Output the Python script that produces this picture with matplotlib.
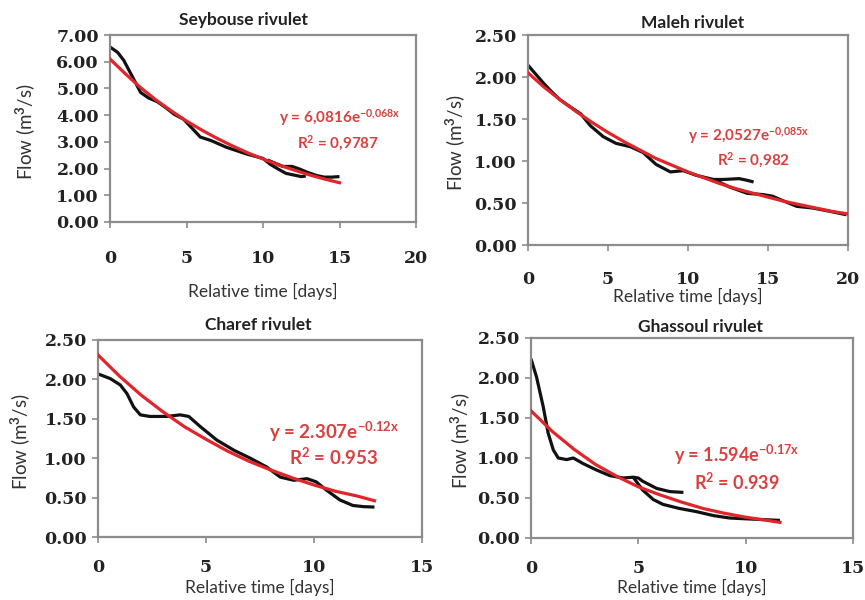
import numpy as np
import matplotlib
matplotlib.use('Agg')
import matplotlib.pyplot as plt

# Seybouse rivulet: two observed recessions + exponential trend
sey_x1 = [0, 0.5, 0.9, 1.5, 2.0, 2.5, 3.1, 3.6, 4.2, 4.8, 5.3, 5.9, 6.6, 7.6, 8.9, 10.0, 10.5, 11.0, 11.5, 12.0, 12.5, 12.8]
sey_y1 = [6.55, 6.35, 6.05, 5.40, 4.85, 4.65, 4.50, 4.30, 4.03, 3.85, 3.55, 3.18, 3.05, 2.80, 2.55, 2.38, 2.15, 1.98, 1.82, 1.76, 1.70, 1.72]
sey_x2 = [10.3, 10.8, 11.3, 11.9, 12.4, 12.9, 13.5, 14.0, 14.5, 15.0]
sey_y2 = [2.32, 2.20, 2.08, 2.08, 1.98, 1.86, 1.74, 1.68, 1.68, 1.70]
sey_fx = [0, 1, 2, 3, 4, 5, 6, 7, 8, 9, 10, 11, 12, 13, 14, 15]
sey_fy = [6.10, 5.55, 5.03, 4.57, 4.16, 3.78, 3.44, 3.13, 2.85, 2.59, 2.36, 2.14, 1.95, 1.77, 1.61, 1.47]

# Maleh rivulet
mal_x1 = [0, 0.5, 1.0, 1.5, 2.0, 2.6, 3.3, 3.9, 4.7, 5.5, 6.4, 7.2, 8.0, 8.9, 9.7, 10.5, 11.6, 12.2, 13.2, 13.7, 14.1]
mal_y1 = [2.14, 2.03, 1.92, 1.82, 1.73, 1.65, 1.56, 1.42, 1.29, 1.21, 1.17, 1.10, 0.96, 0.87, 0.885, 0.83, 0.78, 0.78, 0.79, 0.77, 0.75]
mal_x2 = [11.6, 12.6, 13.7, 14.7, 15.3, 15.9, 16.8, 17.8, 18.9, 19.9]
mal_y2 = [0.78, 0.69, 0.615, 0.60, 0.58, 0.53, 0.46, 0.44, 0.40, 0.36]
mal_fx = [0, 1, 2, 3, 4, 5, 6, 7, 8, 9, 10, 11, 12, 13, 14, 15, 16, 17, 18, 19, 20]
mal_fy = [2.05, 1.88, 1.73, 1.59, 1.46, 1.34, 1.23, 1.13, 1.03, 0.95, 0.87, 0.80, 0.73, 0.67, 0.62, 0.57, 0.52, 0.48, 0.44, 0.40, 0.37]

# Charef rivulet
cha_x = [0, 0.57, 1.03, 1.34, 1.65, 1.96, 2.4, 3.2, 3.8, 4.2, 4.74, 5.5, 6.3, 7.05, 7.8, 8.44, 9.06, 9.68, 10.1, 10.6, 11.2, 11.8, 12.3, 12.8]
cha_y = [2.07, 2.01, 1.93, 1.82, 1.65, 1.55, 1.53, 1.53, 1.55, 1.53, 1.40, 1.23, 1.10, 1.00, 0.89, 0.76, 0.72, 0.74, 0.70, 0.59, 0.47, 0.40, 0.385, 0.38]
cha_fx = [0, 1, 2, 3, 4, 5, 6, 7, 8, 9, 10, 11, 12, 12.8]
cha_fy = [2.31, 2.04, 1.80, 1.59, 1.40, 1.24, 1.09, 0.96, 0.85, 0.75, 0.66, 0.58, 0.52, 0.46]

# Ghassoul rivulet
gha_x1 = [0, 0.26, 0.57, 0.8, 1.04, 1.27, 1.66, 1.97, 2.43, 3.05, 3.67, 4.3, 4.76, 5.0, 5.2, 5.85, 6.47, 7.1]
gha_y1 = [2.24, 2.01, 1.64, 1.31, 1.10, 1.00, 0.98, 1.00, 0.93, 0.85, 0.78, 0.75, 0.76, 0.75, 0.71, 0.62, 0.58, 0.57]
gha_x2 = [4.76, 5.2, 5.7, 6.15, 6.9, 7.7, 8.5, 9.25, 10.0, 10.8, 11.6]
gha_y2 = [0.76, 0.60, 0.48, 0.42, 0.37, 0.33, 0.28, 0.25, 0.24, 0.23, 0.22]
gha_fx = [0, 1, 2, 3, 4, 5, 6, 7, 8, 9, 10, 11, 11.6]
gha_fy = [1.59, 1.33, 1.11, 0.92, 0.77, 0.64, 0.54, 0.45, 0.37, 0.31, 0.26, 0.22, 0.195]

titles = ['Seybouse rivulet', 'Maleh rivulet', 'Charef rivulet', 'Ghassoul rivulet']
equations = ['y = 6,0816e$^{-0{,}068x}$', 'y = 2,0527e$^{-0{,}085x}$',
             'y = 2.307e$^{-0.12x}$', 'y = 1.594e$^{-0.17x}$']
r2_labels = ['R$^2$ = 0,9787', 'R$^2$ = 0,982', 'R$^2$ = 0.953', 'R$^2$ = 0.939']

W, H = 865, 600
BLACK = '#111111'
RED = '#e0262a'
TXT_RED = '#d9403f'
FRAME = '#8c8c8c'

plt.rcParams['mathtext.fontset'] = 'custom'
plt.rcParams['mathtext.rm'] = 'Lato:bold'
plt.rcParams['mathtext.it'] = 'Lato:bold'
plt.rcParams['mathtext.bf'] = 'Lato:bold'

fig = plt.figure(figsize=(W / 100, H / 100), dpi=100)


def make_axes(l, r, t, b):
    return fig.add_axes([l / W, 1 - b / H, (r - l) / W, (b - t) / H])


def style(ax, xmax, xstep, ymax, ystep):
    ax.set_xlim(0, xmax)
    ax.set_ylim(0, ymax)
    ax.set_xticks(np.arange(0, xmax + 0.01, xstep))
    yt = np.arange(0, ymax + 0.001, ystep)
    ax.set_yticks(yt)
    ax.set_yticklabels(['%.2f' % v for v in yt])
    for s in ax.spines.values():
        s.set_color(FRAME)
        s.set_linewidth(1.6)
    ax.tick_params(colors=FRAME, length=4, width=1.2, labelcolor='#222222')
    for lab in ax.get_xticklabels() + ax.get_yticklabels():
        lab.set_fontfamily('DejaVu Serif')
        lab.set_fontweight('bold')
        lab.set_fontsize(12.5)


configs = [
    # pixel box (l, r, t, b), xmax, xstep, ymax, ystep
    ((110, 416, 35, 222), 20, 5, 7.0, 1.0),
    ((528, 848, 35, 245), 20, 5, 2.5, 0.5),
    ((98, 422, 340, 537), 15, 5, 2.5, 0.5),
    ((531, 853, 338, 538), 15, 5, 2.5, 0.5),
]
# tick label pad (pt), x label centre y, y label centre x, title y, title x, eq pos, r2 pos, eq size
extras = [
    (16, 291, 25, 20, 243, (340, 118), (338, 143), 11),
    (15, 296, 455, 23, 693, (749, 136), (754, 160), 11),
    (12, 587, 20, 325, 258, (334, 432), (334, 457), 13.5),
    (12, 587, 460, 327, 700, (737, 455), (737, 482), 13),
]

series = [
    [(sey_x1, sey_y1), (sey_x2, sey_y2)],
    [(mal_x1, mal_y1), (mal_x2, mal_y2)],
    [(cha_x, cha_y)],
    [(gha_x1, gha_y1), (gha_x2, gha_y2)],
]
fits = [(sey_fx, sey_fy), (mal_fx, mal_fy), (cha_fx, cha_fy), (gha_fx, gha_fy)]

for i in range(4):
    px, xmax, xstep, ymax, ystep = configs[i]
    pad, xl_y, yl_x, t_y, t_x, eq_pos, r2_pos, eq_size = extras[i]
    l, r, t, b = px
    ax = make_axes(l, r, t, b)
    for sx, sy in series[i]:
        ax.plot(sx, sy, color=BLACK, lw=2.3, solid_capstyle='butt', zorder=2)
    fx, fy = fits[i]
    ax.plot(fx, fy, color=RED, lw=2.3, zorder=3)
    style(ax, xmax, xstep, ymax, ystep)
    ax.tick_params(axis='x', pad=pad)
    ax.tick_params(axis='y', pad=4)

    fig.text(t_x / W, 1 - t_y / H, titles[i], ha='center', va='center',
             fontsize=12.5, fontweight='bold', family='Lato', color='#222222')
    fig.text((l + r) / 2 / W, 1 - xl_y / H, 'Relative time [days]', ha='center', va='center',
             fontsize=12.5, family='Lato', color='#333333')
    fig.text(yl_x / W, 1 - ((t + b) / 2 + 3) / H, 'Flow (m$^3$/s)', ha='center', va='center',
             rotation=90, fontsize=13.5, family='Lato', color='#333333')
    fig.text(eq_pos[0] / W, 1 - eq_pos[1] / H, equations[i], ha='center', va='center',
             fontsize=eq_size, fontweight='bold', family='Lato', color=TXT_RED)
    fig.text(r2_pos[0] / W, 1 - r2_pos[1] / H, r2_labels[i], ha='center', va='center',
             fontsize=eq_size, fontweight='bold', family='Lato', color=TXT_RED)

fig.savefig('out.png', dpi=100)
